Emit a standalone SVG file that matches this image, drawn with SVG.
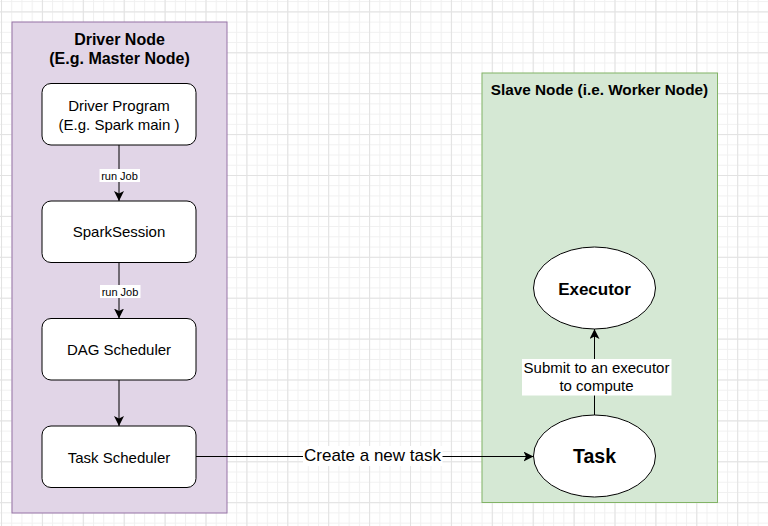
<svg xmlns="http://www.w3.org/2000/svg" width="768" height="526" viewBox="0 0 768 526">
<defs>
<pattern id="minor" x="1" y="11.4" width="10.225" height="10.225" patternUnits="userSpaceOnUse">
<path d="M0 0.5H10.225M0.5 0V10.225" fill="none" stroke="#f0f0f0" stroke-width="1"/>
</pattern>
<pattern id="major" x="1" y="11.4" width="40.9" height="40.9" patternUnits="userSpaceOnUse">
<path d="M0 0.5H40.9M0.5 0V40.9" fill="none" stroke="#e2e2e2" stroke-width="1"/>
</pattern>
<marker id="arr" viewBox="0 0 10 10" refX="10" refY="5" markerWidth="10" markerHeight="10" markerUnits="userSpaceOnUse" orient="auto">
<path d="M0 0L10 5L0 10L2.5 5Z" fill="#000"/>
</marker>
<style>
.box{fill:#fff;stroke:#000;stroke-width:1}
.t{font-family:"Liberation Sans",Arial,sans-serif;fill:#000;text-anchor:middle}
.r{font-size:15px}
.b{font-weight:bold}
.edge{fill:none;stroke:#000;stroke-width:1;marker-end:url(#arr)}
.lbl{fill:#fff}
</style>
</defs>
<rect width="768" height="526" fill="#fff"/>
<rect width="768" height="526" fill="url(#minor)"/>
<rect width="768" height="526" fill="url(#major)"/>

<g id="driver-node">
<rect x="12" y="22" width="215" height="491" fill="#e1d5e7" stroke="#9673a6"/>
<text class="t b" x="119.5" y="45" font-size="16">Driver Node</text>
<text class="t b" x="119.5" y="64" font-size="16">(E.g. Master Node)</text>
</g>

<g id="slave-node">
<rect x="482" y="73" width="235.5" height="429.5" fill="#d5e8d4" stroke="#82b366"/>
<text class="t b" x="599.5" y="95" font-size="15.3">Slave Node (i.e. Worker Node)</text>
</g>

<g id="driver-program">
<rect class="box" x="42" y="83.5" width="154" height="61.5" rx="9"/>
<text class="t r" x="119" y="111">Driver Program</text>
<text class="t r" x="119" y="130">(E.g. Spark main )</text>
</g>

<g id="spark-session">
<rect class="box" x="42" y="201" width="154" height="61.5" rx="9"/>
<text class="t r" x="119" y="237">SparkSession</text>
</g>

<g id="dag-scheduler">
<rect class="box" x="42" y="318.5" width="154" height="61.5" rx="9"/>
<text class="t r" x="119" y="355">DAG Scheduler</text>
</g>

<g id="task-scheduler">
<rect class="box" x="42" y="426" width="154" height="61.5" rx="9"/>
<text class="t r" x="119" y="463">Task Scheduler</text>
</g>

<g id="executor">
<ellipse class="box" cx="594.5" cy="288" rx="61" ry="41"/>
<text class="t b" x="594.5" y="294.5" font-size="17">Executor</text>
</g>

<g id="task">
<ellipse class="box" cx="594.5" cy="456" rx="61" ry="41"/>
<text class="t b" x="594.5" y="463" font-size="19.5">Task</text>
</g>

<g id="connectors">
<path class="edge" d="M119 145V201"/>
<rect class="lbl" x="99.5" y="169" width="40.5" height="13"/>
<text class="t" x="119.5" y="179.5" font-size="11">run Job</text>

<path class="edge" d="M119 262.5V318.5"/>
<rect class="lbl" x="100" y="285" width="40.5" height="13"/>
<text class="t" x="120" y="295.5" font-size="11">run Job</text>

<path class="edge" d="M119 380V426"/>

<path class="edge" d="M196 456.5H533.5"/>
<rect class="lbl" x="303" y="446" width="139.5" height="20"/>
<text class="t" x="372.5" y="461" font-size="17">Create a new task</text>

<path class="edge" d="M594.5 415V329"/>
<rect class="lbl" x="522" y="359" width="149.5" height="36.5"/>
<text class="t r" x="596.5" y="373">Submit to an executor</text>
<text class="t r" x="596.5" y="391">to compute</text>
</g>
</svg>
